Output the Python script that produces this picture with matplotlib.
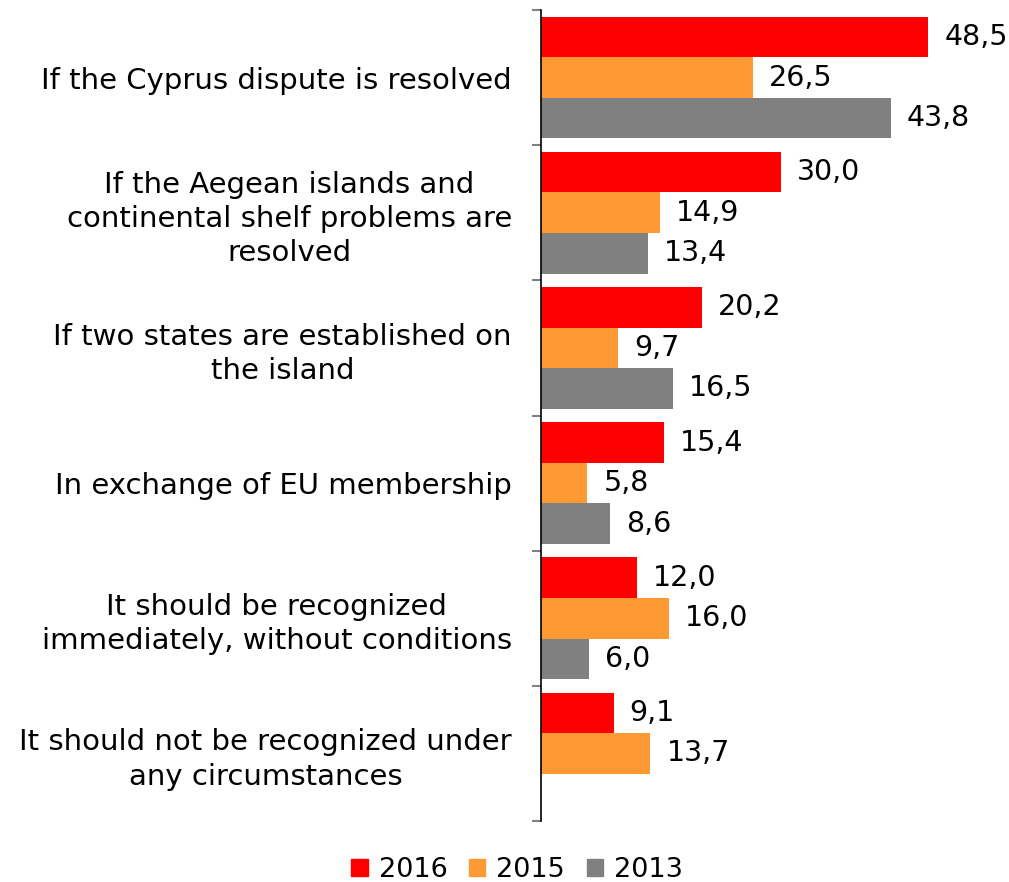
import numpy as np
import matplotlib.pyplot as plt
from matplotlib.patches import Patch

categories = ["If the Cyprus dispute is resolved",
              "If the Aegean islands and\ncontinental shelf problems are\nresolved",
              "If two states are established on\nthe island",
              "In exchange of EU membership",
              "It should be recognized\nimmediately, without conditions",
              "It should not be recognized under\nany circumstances"]
years = ["2016", "2015", "2013"]
v2016 = [48.5, 30.0, 20.2, 15.4, 12.0, 9.1]
v2015 = [26.5, 14.9, 9.7, 5.8, 16.0, 13.7]
v2013 = [43.8, 13.4, 16.5, 8.6, 6.0, None]
colors = ["#ff0000", "#ff9933", "#808080"]

fig = plt.figure(figsize=(10.09, 8.82), dpi=100)
ax = fig.add_axes([541 / 1009, 1 - 821 / 882, 1 - 541 / 1009, 811 / 882])

h = 0.3
y = np.arange(len(categories))
for k, vals in enumerate([v2016, v2015, v2013]):
    for i, v in enumerate(vals):
        if v is None:
            continue
        yy = i - h + k * h
        ax.barh(yy, v, height=h, color=colors[k])
        ax.text(v + 2.0, yy, f"{v:.1f}".replace(".", ","), va="center",
                ha="left", fontsize=20.5, color="black")

ax.set_xlim(0, 58.6)
ax.set_ylim(len(categories) - 0.5, -0.5)
ax.set_yticks(y)
ax.set_yticklabels(categories, fontsize=21, multialignment="center",
                   linespacing=1.28)
ax.set_yticks(np.arange(len(categories) + 1) - 0.5, minor=True)
ax.tick_params(axis="y", which="major", length=0, pad=21)
ax.tick_params(axis="y", which="minor", length=6.5, color="#808080", width=1.5)
ax.set_xticks([])
for s in ["top", "right", "bottom"]:
    ax.spines[s].set_visible(False)
ax.spines["left"].set_color("black")
ax.spines["left"].set_linewidth(1.2)

handles = [Patch(color=c, label=l) for c, l in zip(colors, years)]
fig.legend(handles=handles, loc="center", bbox_to_anchor=(517 / 1009, 1 - 870 / 882),
           ncol=3, frameon=False, fontsize=19.5, handlelength=0.6, handleheight=0.6,
           handletextpad=0.4, columnspacing=0.8)

fig.savefig("out.png", dpi=100)
